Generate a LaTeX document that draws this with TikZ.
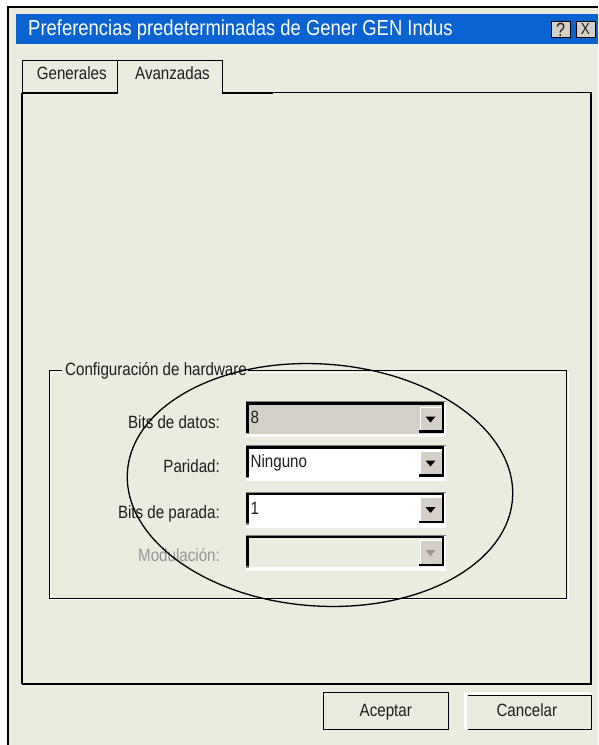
\documentclass[tikz,border=0pt]{standalone}
\usepackage{fontspec}
\setmainfont{Liberation Sans}[FakeStretch=0.85]
\definecolor{winbg}{RGB}{236,235,223}
\definecolor{wintitle}{RGB}{11,99,209}
\definecolor{btnface}{RGB}{212,208,200}
\definecolor{wintxt}{RGB}{30,30,30}
\definecolor{disgray}{RGB}{150,150,150}
\newcommand{\fsz}[1]{\fontsize{#1}{#1}\selectfont}

\begin{document}
\begin{tikzpicture}[x=1pt,y=-1pt,
  lbl/.style={text=wintxt,inner sep=0pt,font=\fsz{17.8}},
  edge2/.style={line width=2.5pt}]
\useasboundingbox (0,0) rectangle (598,745);
\fill[white] (0,0) rectangle (598,745);
\fill[winbg] (8,7) rectangle (598,745);
\draw[line width=1.2pt] (8,745) -- (8,7) -- (598,7);
% title bar
\fill[wintitle] (16,14) rectangle (598,44.3);
\node[lbl,text=white,font=\fsz{21.7},anchor=base west] (title) at (28,35) {Preferencias predeterminadas de Gener GEN Indus};
\filldraw[fill=btnface,line width=0.8pt] (551,21) rectangle (570,37);
\filldraw[fill=btnface,line width=0.8pt] (576,21) rectangle (595,37);
\node[lbl,font=\fsz{19},anchor=base] (help) at (560.5,36) {?};
\node[lbl,font=\fsz{16},anchor=base] (close) at (585.5,34.7) {X};
% tabs and panel
\draw[line width=1pt] (22,92.7) -- (22,60) -- (222,60) -- (222,94);
\draw[line width=1pt] (117.7,60) -- (117.7,92.7);
\draw[line width=2pt] (22,92.7) -- (117.7,92.7);
\draw[line width=2pt] (222,92.7) -- (273,92.7);
\draw[line width=0.8pt] (273,92.7) -- (590.7,92.7);
\draw[line width=1.2pt] (22,92.7) -- (22,684);
\draw[line width=2pt] (22,684) -- (591,684) -- (591,92);
\node[lbl,anchor=base west] (tabgen) at (36.7,79.3) {Generales};
\node[lbl,anchor=base west] (tabadv) at (135,79.3) {Avanzadas};
% group box
\foreach \o/\c in {1.5/white,0/black}
  \draw[\c,line width=1pt,shift={(\o,\o)}] (62,370.7) -- (49.3,370.7) -- (49.3,598.3) -- (566.5,598.3) -- (566.5,370.7) -- (248,370.7);
\node[lbl,anchor=base west] (grp) at (65,375) {Configuración de hardware};
% rows
\foreach \t/\lab/\col [count=\i] in {401/Bits de datos:/wintxt,445/Paridad:/wintxt,491.5/Bits de parada:/wintxt,534.5/Modulación:/disgray}
  \node[lbl,text=\col,anchor=base east] (lab\i) at (220,\t+27.3) {\lab};
\foreach \t/\fil/\val/\tri [count=\i] in {401/btnface/8/black,445/white/Ninguno/black,491.5/white/1/black,534.5/winbg//disgray}{
  \fill[white] (246,\t) rectangle (446,\t+36);
  \fill[\fil] (248.7,\t+3.8) rectangle (441.7,\t+32.5);
  \draw[gray,line width=1.2pt] (246,\t+0.6) -- (446,\t+0.6);
  \draw[edge2] (246,\t+2.6) -- (444.3,\t+2.6);
  \draw[edge2] (247.3,\t+1.4) -- (247.3,\t+31.7);
  \draw[gray,line width=2.5pt] (247.3,\t+31.7) -- (247.3,\t+33);
  \draw[edge2] (443,\t+1.4) -- (443,\t+30.3) -- (419,\t+30.3);
  \fill[btnface] (420,\t+5.7) rectangle (441.7,\t+29);
  \draw[white,line width=1.2pt] (420.6,\t+29) -- (420.6,\t+6.3) -- (441.7,\t+6.3);
  \fill[\tri] (425.5,\t+15.5) -- (435.5,\t+15.5) -- (430.5,\t+21.5) -- cycle;
  \node[lbl,anchor=base west] (val\i) at (250.5,\t+22.5) {\val};
}
% highlight
\draw[line width=1.3pt,rotate around={-4:(320,485)}] (320,485) ellipse [x radius=193, y radius=121];
% buttons
\draw[line width=1pt] (323,692.3) rectangle (448.7,729.3);
\node[lbl,anchor=base] (ok) at (385.8,716) {Aceptar};
\draw[white,line width=2.5pt] (465.5,729.3) -- (465.5,693.5) -- (591.3,693.5);
\draw[line width=1pt] (467.5,695.5) -- (591.3,695.5) -- (591.3,729.3) -- (467.5,729.3);
\node[lbl,anchor=base] (cancel) at (526.8,716) {Cancelar};
\end{tikzpicture}
\end{document}
